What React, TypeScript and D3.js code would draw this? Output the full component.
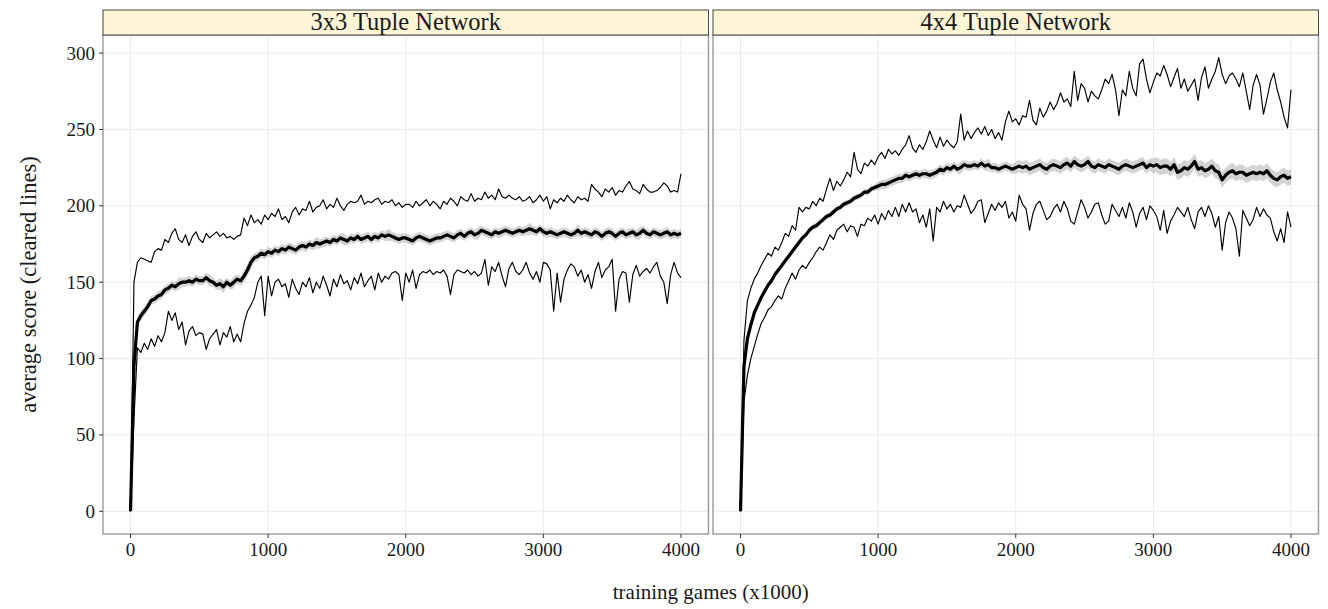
import React from "react";
import * as d3 from "d3";

// training games (x1000), one sample every 25
const games = d3.range(0, 4001, 25);

const yTicks = [0, 50, 100, 150, 200, 250, 300];
const xTicks = [0, 1000, 2000, 3000, 4000];

// 3x3 tuple network
const mean3x3 = [
  0, 95, 124, 128, 131, 134, 138, 139, 141, 142,
  145, 146, 148, 147, 149, 150, 150, 151, 150, 152,
  151, 151, 153, 151, 150, 148, 149, 147, 150, 148,
  150, 152, 151, 154, 158, 163, 166, 167, 169, 168,
  170, 169, 171, 170, 172, 171, 173, 172, 171, 173,
  174, 173, 175, 174, 176, 175, 176, 177, 176, 178,
  177, 179, 178, 177, 179, 178, 180, 178, 179, 180,
  178, 180, 179, 181, 180, 181, 180, 179, 178, 179,
  179, 178, 177, 179, 180, 179, 178, 177, 178, 179,
  179, 180, 181, 180, 179, 181, 182, 180, 182, 183,
  181, 182, 184, 183, 182, 181, 183, 182, 183, 184,
  183, 182, 183, 184, 183, 184, 185, 184, 183, 185,
  183, 182, 183, 182, 181, 182, 183, 182, 181, 182,
  184, 182, 183, 182, 181, 183, 182, 180, 182, 183,
  182, 180, 182, 183, 181, 182, 183, 181, 182, 184,
  182, 181, 183, 182, 181, 182, 183, 181, 182, 181,
  182,
];
const upper3x3 = [
  0, 150, 163, 166, 165, 164, 163, 170, 172, 171,
  178, 176, 182, 185, 178, 176, 181, 174, 180, 183,
  178, 176, 182, 179, 181, 183, 180, 182, 179, 180,
  178, 180, 181, 192, 187, 194, 189, 191, 188, 194,
  191, 195, 193, 198, 191, 193, 189, 196, 199, 194,
  198, 197, 203, 196, 199, 200, 204, 198, 201, 199,
  205, 200, 197, 201, 203, 202, 203, 207, 201, 203,
  202, 204, 205, 201, 203, 202, 204, 200, 202, 199,
  201, 201, 199, 203, 200, 202, 204, 200, 203, 201,
  198, 203, 201, 205, 203, 200, 206, 204, 203, 208,
  203, 205, 204, 209, 205, 207, 204, 211, 206, 205,
  207, 205, 204, 206, 203, 204, 206, 202, 204, 207,
  203, 206, 198, 204, 202, 205, 203, 207, 204, 202,
  206, 204, 205, 203, 214, 211, 209, 206, 211, 209,
  212, 207, 210, 209, 213, 216, 211, 210, 208, 214,
  211, 209, 209, 210, 212, 215, 213, 209, 210, 209,
  221,
];
const lower3x3 = [
  0, 60, 107, 104, 110, 106, 113, 108, 115, 111,
  117, 131, 125, 130, 119, 124, 109, 118, 121, 115,
  117, 116, 106, 113, 116, 119, 109, 117, 114, 121,
  111, 116, 111, 123, 131, 135, 140, 150, 154, 128,
  154, 141, 150, 152, 147, 149, 140, 152, 146, 142,
  150, 147, 153, 143, 150, 146, 154, 148, 141, 152,
  147, 155, 149, 151, 145, 153, 149, 156, 147, 151,
  154, 145, 156, 150, 154, 152, 156, 157, 155, 138,
  156, 150, 158, 146, 155, 157, 156, 158, 155, 157,
  156, 158, 154, 142, 155, 158, 157, 156, 158, 155,
  157, 154, 156, 165, 148, 160, 157, 163, 154, 147,
  159, 163, 157, 155, 158, 163, 156, 152, 157, 150,
  163, 162, 158, 131, 156, 137, 152, 158, 162, 160,
  154, 158, 150, 155, 146, 157, 163, 153, 158, 160,
  165, 131, 152, 157, 156, 137, 155, 161, 154, 157,
  159, 156, 160, 163, 154, 150, 136, 155, 163, 156,
  153,
];
const band3x3 = [
  0, 3, 3, 3, 3, 3, 3, 3, 3, 3,
  3, 3, 3, 3, 4, 3, 3, 3, 3, 3,
  3, 3, 3, 4, 3, 3, 4, 4, 3, 3,
  4, 3, 3, 4, 4, 4, 3, 3, 3, 3,
  3, 3, 3, 3, 3, 3, 3, 3, 3, 3,
  3, 3, 3, 3, 4, 3, 3, 3, 3, 3,
  3, 3, 4, 3, 3, 3, 3, 3, 3, 3,
  3, 3, 3, 3, 3, 4, 3, 3, 3, 3,
  3, 3, 3, 3, 3, 3, 3, 3, 3, 3,
  3, 3, 3, 3, 3, 3, 3, 3, 3, 3,
  3, 4, 3, 3, 3, 3, 3, 3, 3, 3,
  3, 3, 3, 3, 3, 3, 4, 3, 3, 3,
  3, 3, 3, 3, 3, 3, 3, 3, 3, 3,
  4, 3, 3, 3, 3, 3, 3, 3, 3, 3,
  3, 3, 3, 3, 3, 3, 3, 3, 4, 3,
  3, 3, 3, 3, 3, 3, 3, 3, 3, 3,
  3,
];

// 4x4 tuple network
const mean4x4 = [
  0, 95, 113, 122, 130, 135, 140, 144, 148, 151,
  155, 158, 161, 164, 167, 170, 173, 176, 179, 181,
  184, 186, 187, 189, 191, 193, 194, 196, 198, 199,
  201, 202, 203, 205, 206, 207, 209, 209, 211, 212,
  213, 214, 214, 215, 216, 217, 218, 218, 220, 219,
  220, 221, 220, 221, 221, 220, 221, 222, 224, 223,
  225, 224, 226, 224, 225, 227, 226, 226, 227, 226,
  228, 226, 227, 225, 225, 224, 225, 226, 225, 224,
  225, 226, 225, 226, 224, 225, 226, 227, 225, 224,
  226, 227, 226, 225, 227, 228, 226, 229, 227, 226,
  227, 229, 226, 225, 227, 226, 225, 227, 226, 225,
  224, 226, 227, 226, 225, 226, 227, 228, 225, 227,
  226, 227, 225, 226, 226, 224, 227, 222, 223, 225,
  224, 226, 229, 224, 225, 223, 224, 226, 223, 222,
  217, 220, 222, 223, 221, 222, 222, 220, 221, 222,
  221, 222, 221, 223, 220, 218, 217, 219, 220, 218,
  219,
];
const upper4x4 = [
  0, 112, 138, 146, 152, 156, 161, 165, 169, 167,
  173, 171, 176, 182, 180, 187, 184, 199, 196, 199,
  198, 203, 200, 205, 203, 211, 218, 210, 216, 213,
  217, 222, 219, 235, 224, 221, 228, 226, 230, 227,
  232, 235, 231, 237, 234, 236, 233, 237, 240, 246,
  238, 235, 240, 237, 242, 249, 243, 238, 245, 239,
  243, 240, 238, 242, 260, 243, 249, 244, 248, 251,
  247, 252, 246, 250, 244, 248, 243, 255, 262, 255,
  257, 253, 259, 258, 269, 256, 253, 264, 258, 262,
  268, 263, 267, 274, 268, 270, 265, 288, 269, 280,
  277, 268, 275, 272, 270, 276, 283, 280, 286, 276,
  259, 276, 272, 288, 277, 272, 293, 296, 283, 274,
  281, 287, 285, 292, 286, 278, 284, 290, 277, 283,
  275, 279, 283, 269, 284, 291, 277, 283, 288, 297,
  286, 280, 285, 287, 283, 278, 287, 275, 263, 279,
  286, 279, 260, 270, 281, 287, 276, 268, 258, 251,
  276,
];
const lower4x4 = [
  0, 72, 89, 100, 108, 116, 123, 127, 132, 134,
  138, 141, 139, 146, 151, 156, 152, 158, 161, 159,
  163, 166, 170, 173, 171, 176, 181, 178, 184, 186,
  188, 183, 187, 186, 180, 188, 187, 192, 190, 194,
  188, 195, 191, 197, 193, 199, 193, 201, 196, 202,
  196, 198, 189, 194, 186, 198, 177, 199, 196, 203,
  198, 201, 196, 200, 199, 207, 201, 195, 198, 203,
  204, 189, 195, 201, 197, 202, 199, 203, 192, 196,
  190, 207, 201, 198, 184, 195, 201, 203, 197, 191,
  193, 198, 201, 196, 203, 198, 190, 188, 196, 204,
  199, 192, 196, 201, 202, 194, 188, 190, 201, 197,
  193, 199, 192, 202, 196, 186, 195, 199, 191, 200,
  197, 193, 184, 197, 182, 190, 194, 199, 196, 193,
  199, 191, 185, 196, 199, 193, 200, 195, 186, 193,
  171, 189, 196, 192, 185, 167, 197, 192, 187, 191,
  199, 193, 198, 194, 192, 183, 177, 185, 176, 196,
  186,
];
const band4x4 = [
  0, 2, 2, 2, 2, 2, 2, 2, 2, 2,
  2, 2, 2, 2, 2, 2, 2, 2, 2, 2,
  2, 2, 2, 2, 2, 2, 2, 2, 2, 2,
  2, 2, 2, 2, 2, 2, 2, 2, 2, 2,
  3, 3, 3, 3, 3, 3, 3, 3, 3, 3,
  3, 3, 3, 3, 3, 3, 3, 3, 3, 3,
  3, 3, 3, 3, 4, 3, 3, 3, 3, 3,
  3, 3, 4, 3, 3, 3, 3, 3, 3, 3,
  4, 4, 4, 4, 4, 4, 4, 4, 4, 4,
  4, 4, 4, 4, 4, 4, 4, 4, 4, 4,
  4, 4, 4, 4, 4, 4, 4, 4, 4, 4,
  4, 4, 4, 4, 4, 4, 4, 4, 4, 4,
  5, 5, 5, 5, 5, 5, 5, 5, 5, 5,
  5, 5, 5, 5, 5, 5, 5, 5, 5, 5,
  5, 5, 5, 5, 5, 5, 5, 5, 5, 5,
  5, 5, 5, 5, 5, 5, 5, 5, 5, 5,
  5,
];

const panels = [
  { title: "3x3 Tuple Network", mean: mean3x3, upper: upper3x3, lower: lower3x3, band: band3x3 },
  { title: "4x4 Tuple Network", mean: mean4x4, upper: upper4x4, lower: lower4x4, band: band4x4 },
];

const WIDTH = 1328;
const HEIGHT = 609;
const PANEL_LEFT = 103;
const PANEL_W = 605.5;
const PANEL_GAP = 4.5;
const STRIP_TOP = 10;
const PANEL_TOP = 35;
const PANEL_BOTTOM = 534;
const FONT = "'Liberation Serif', 'Times New Roman', serif";

const yScale = d3.scaleLinear().domain([-14.85, 311.85]).range([PANEL_BOTTOM, PANEL_TOP]);

const Panel = ({ p, idx }) => {
  const left = PANEL_LEFT + idx * (PANEL_W + PANEL_GAP);
  const right = left + PANEL_W;
  const xScale = d3.scaleLinear().domain([-200, 4200]).range([left, right]);

  const line = d3
    .line<number>()
    .x((_, i) => xScale(games[i]))
    .y((d) => yScale(d));
  const area = d3
    .area<number>()
    .x((_, i) => xScale(games[i]))
    .y0((d, i) => yScale(d - p.band[i]))
    .y1((d, i) => yScale(d + p.band[i]));

  return (
    <g>
      {/* grid */}
      {yTicks.map((t) => (
        <line key={"gy" + t} x1={left} x2={right} y1={yScale(t)} y2={yScale(t)} stroke="#ebebeb" strokeWidth={1} />
      ))}
      {xTicks.map((t) => (
        <line key={"gx" + t} x1={xScale(t)} x2={xScale(t)} y1={PANEL_TOP} y2={PANEL_BOTTOM} stroke="#ebebeb" strokeWidth={1} />
      ))}

      <path d={area(p.mean) || ""} fill="#a8a8a8" fillOpacity={0.5} stroke="none" />
      <path d={line(p.upper) || ""} fill="none" stroke="#000" strokeWidth={1.15} strokeLinejoin="round" />
      <path d={line(p.lower) || ""} fill="none" stroke="#000" strokeWidth={1.15} strokeLinejoin="round" />
      <path d={line(p.mean) || ""} fill="none" stroke="#000" strokeWidth={3.2} strokeLinejoin="round" />

      {/* panel border */}
      <rect x={left} y={PANEL_TOP} width={PANEL_W} height={PANEL_BOTTOM - PANEL_TOP} fill="none" stroke="#999" strokeWidth={1.4} />

      {/* strip */}
      <rect x={left} y={STRIP_TOP} width={PANEL_W} height={PANEL_TOP - STRIP_TOP} fill="#fff6d8" stroke="#444" strokeWidth={1} />
      <text x={(left + right) / 2} y={30} textAnchor="middle" fontSize={24.5} fill="#1a1a1a">
        {p.title}
      </text>

      {/* x axis */}
      {xTicks.map((t) => (
        <g key={"xt" + t}>
          <line x1={xScale(t)} x2={xScale(t)} y1={PANEL_BOTTOM} y2={PANEL_BOTTOM + 4} stroke="#333" strokeWidth={1} />
          <text x={xScale(t)} y={PANEL_BOTTOM + 22} textAnchor="middle" fontSize={19} fill="#1a1a1a">
            {t}
          </text>
        </g>
      ))}
    </g>
  );
};

export default function App() {
  return (
    <svg
      width={WIDTH}
      height={HEIGHT}
      style={{ position: "absolute", left: 0, top: 0, background: "#fff" }}
      fontFamily={FONT}
    >
      {panels.map((p, i) => (
        <Panel key={p.title} p={p} idx={i} />
      ))}

      {/* y axis */}
      {yTicks.map((t) => (
        <g key={"yt" + t}>
          <line x1={PANEL_LEFT - 4} x2={PANEL_LEFT} y1={yScale(t)} y2={yScale(t)} stroke="#333" strokeWidth={1} />
          <text x={PANEL_LEFT - 8} y={yScale(t)} dy="0.34em" textAnchor="end" fontSize={19} fill="#1a1a1a">
            {t}
          </text>
        </g>
      ))}

      <text
        transform={`translate(28, ${(PANEL_TOP + PANEL_BOTTOM) / 2}) rotate(-90)`}
        textAnchor="middle"
        dy="0.35em"
        fontSize={22.5}
        fill="#1a1a1a"
      >
        average score (cleared lines)
      </text>
      <text x={(PANEL_LEFT + PANEL_LEFT + 2 * PANEL_W + PANEL_GAP) / 2} y={599} textAnchor="middle" fontSize={21} fill="#1a1a1a">
        training games (x1000)
      </text>
    </svg>
  );
}
